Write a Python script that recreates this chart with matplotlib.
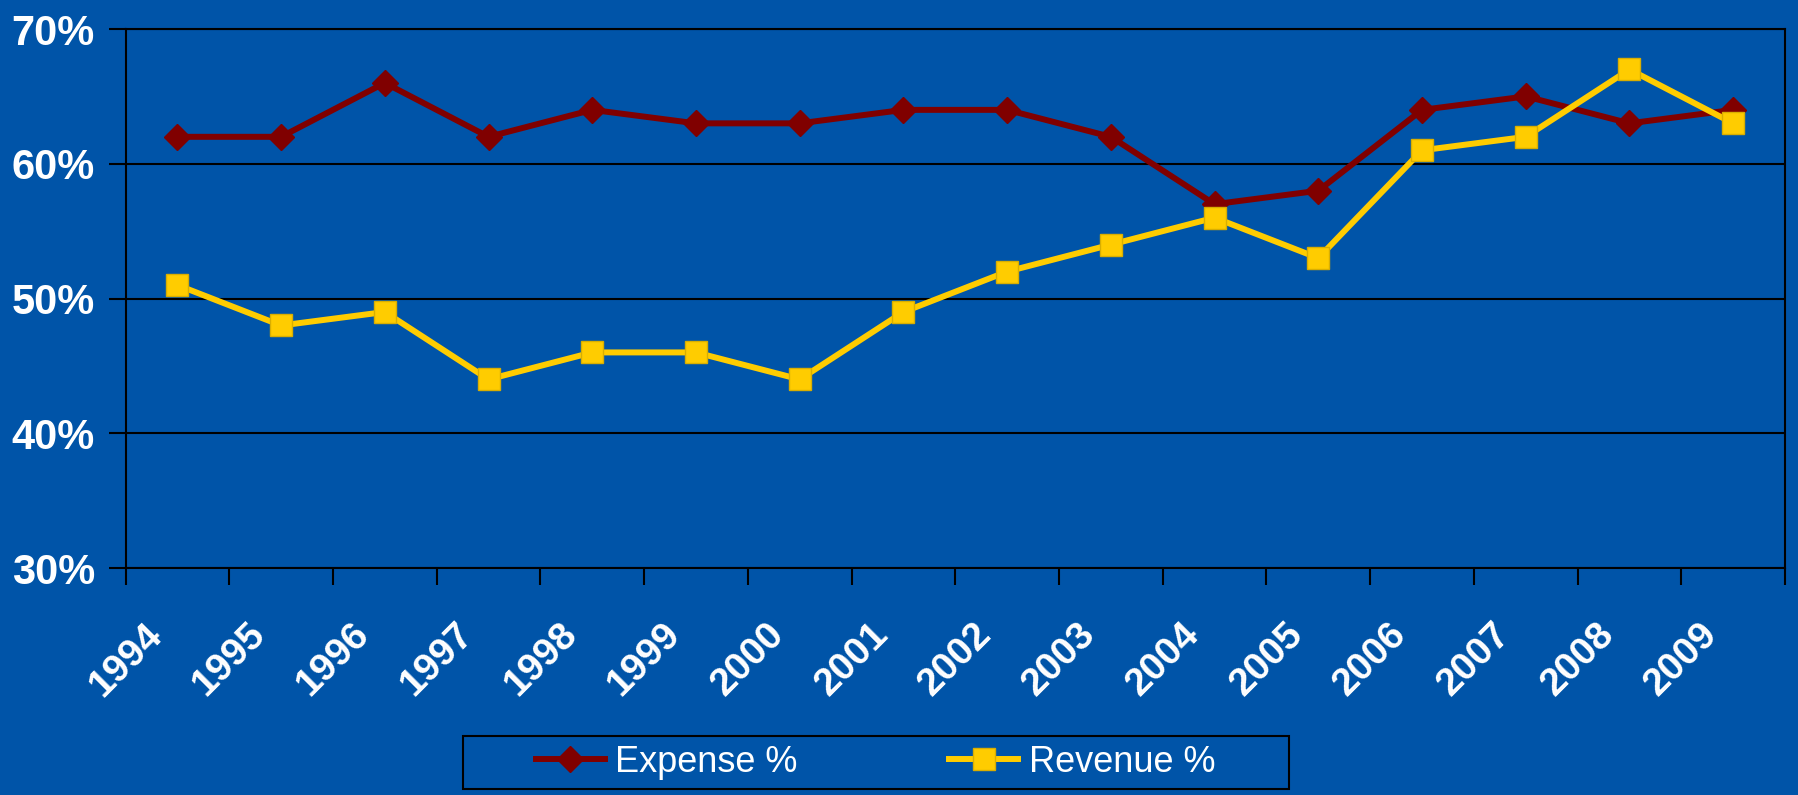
import matplotlib
matplotlib.use("Agg")
from matplotlib import pyplot as plt
from matplotlib.patches import Rectangle
from matplotlib.ticker import FuncFormatter, FixedLocator
from matplotlib.transforms import ScaledTranslation

years = ["1994", "1995", "1996", "1997", "1998", "1999", "2000", "2001",
         "2002", "2003", "2004", "2005", "2006", "2007", "2008", "2009"]
expense_pct = [62, 62, 66, 62, 64, 63, 63, 64, 64, 62, 57, 58, 64, 65, 63, 64]
revenue_pct = [51, 48, 49, 44, 46, 46, 44, 49, 52, 54, 56, 53, 61, 62, 67, 63]
y_ticks = [30, 40, 50, 60, 70]

bg = "#0054A8"
plt.rcParams["font.family"] = ["Liberation Sans", "DejaVu Sans"]

fig = plt.figure(figsize=(17.98, 7.95), dpi=100, facecolor=bg)
ax = fig.add_axes([0.0698, 0.2855, 0.9230, 0.678])
ax.set_facecolor(bg)

x = list(range(len(years)))
ax.plot(x, expense_pct, color="#800000", lw=4.3, marker="D", ms=13.5,
        mec="#800000", label="Expense %", zorder=3)
ax.plot(x, revenue_pct, color="#FFCC00", lw=4.3, marker="s", ms=16.5,
        mec="#D9AE00", mew=1, label="Revenue %", zorder=4)

ax.set_xlim(-0.5, len(years) - 0.5)
ax.set_ylim(30, 70)
ax.set_yticks(y_ticks)
ax.yaxis.set_major_formatter(FuncFormatter(lambda v, p: f"{v:.0f}%"))
ax.grid(axis="y", color="black", lw=1.5)
ax.set_axisbelow(True)

# category labels at centres, tick marks at boundaries
ax.set_xticks(x)
ax.set_xticklabels(years, rotation=45, ha="right", va="center",
                   rotation_mode="anchor")
ax.xaxis.set_minor_locator(FixedLocator([i - 0.5 for i in range(len(years) + 1)]))
ax.tick_params(axis="x", which="major", length=0, pad=44)
ax.tick_params(axis="x", which="minor", length=12, width=1.5, color="black")
ax.tick_params(axis="y", length=12, width=1.5, color="black", pad=10)
shift = ScaledTranslation(-0.21, 0, fig.dpi_scale_trans)
for lab in ax.get_xticklabels():
    lab.set_fontsize(28)
    lab.set_fontweight("bold")
    lab.set_color("white")
    lab.set_transform(lab.get_transform() + shift)
for lab in ax.get_yticklabels():
    lab.set_fontsize(30)
    lab.set_fontweight("bold")
    lab.set_color("white")

for s in ax.spines.values():
    s.set_color("black")
    s.set_linewidth(1.5)

# legend box
fig.patches.append(Rectangle((0.2575, 0.0075), 0.4595, 0.0665, transform=fig.transFigure,
                             facecolor=bg, edgecolor="black", lw=1.5))
leg = fig.legend(loc="center", bbox_to_anchor=(0.487, 0.0409), ncol=2, frameon=False,
                 fontsize=26, handlelength=1.9, handletextpad=0.3, columnspacing=4.2)
for t in leg.get_texts():
    t.set_color("white")

fig.savefig("out.png", dpi=100, facecolor=bg)
